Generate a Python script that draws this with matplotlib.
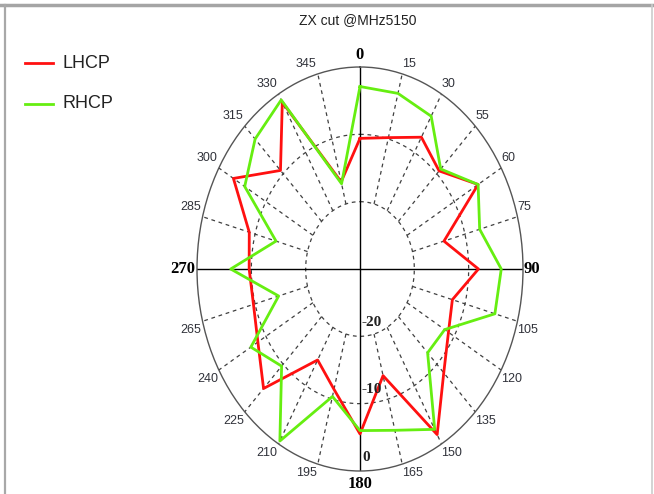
import numpy as np
import matplotlib
matplotlib.use("Agg")
import matplotlib.pyplot as plt
from matplotlib.lines import Line2D

# pattern cut, dB values every 15 degrees
angles_deg = [0, 15, 30, 45, 60, 75, 90, 105, 120, 135, 150, 165,
              180, 195, 210, 225, 240, 255, 270, 285, 300, 315, 330, 345]
lhcp = [-10.6, -9.8, -7.4, -9.4, -4.9, -14.0, -8.2, -12.4, -11.2, -8.2, -1.6, -13.6,
        -5.5, -11.5, -14.4, -4.9, -8.3, -9.7, -9.6, -8.9, -3.1, -9.3, -1.4, -16.6]
rhcp = [-2.9, -3.0, -3.8, -9.0, -4.9, -7.2, -4.0, -4.3, -12.0, -12.4, -2.5, -5.2,
        -6.0, -10.4, -0.5, -9.6, -6.8, -14.5, -6.2, -14.0, -5.5, -2.7, -1.0, -16.9]
# angle tick texts as printed on the plot
angle_labels = ["0", "15", "30", "55", "60", "75", "90", "105", "120", "135", "150", "165",
                "180", "195", "210", "225", "240", "265", "270", "285", "300", "315", "330", "345"]
ring_values = [-20, -10, 0]
r_min, r_max = -30, 0

sans = ["Liberation Sans Narrow", "Liberation Sans", "DejaVu Sans"]
serif = ["Liberation Serif", "DejaVu Serif"]

W, H = 654, 494
fig = plt.figure(figsize=(W / 100, H / 100), dpi=100)
fig.patch.set_facecolor("white")

# stretched polar axes -> elliptical chart
cx, cy, rx, ry = 360, 269, 163, 202
ax = fig.add_axes([(cx - rx) / W, (H - cy - ry) / H, 2 * rx / W, 2 * ry / H],
                  projection="polar")
ax.set_aspect("auto")
ax.set_theta_zero_location("N")
ax.set_theta_direction(-1)
ax.set_ylim(r_min, r_max)
ax.grid(False)
ax.set_xticks([])
ax.set_yticks([])
ax.spines["polar"].set_color("#555555")
ax.spines["polar"].set_linewidth(1.0)

dash = dict(color="#404040", lw=0.9, ls=(0, (3, 3)))
full = np.linspace(0, 2 * np.pi, 361)
for rv in ring_values[:-1]:
    ax.plot(full, np.full_like(full, rv), **dash)
for a in angles_deg:
    if a % 90:
        t = np.deg2rad(a)
        ax.plot([t, t], [ring_values[0], r_max], **dash)
for a in (0, 90):
    t = np.deg2rad(a)
    ax.plot([t, t + np.pi], [r_max, r_max], color="black", lw=1.0)

theta = np.deg2rad(angles_deg + [angles_deg[0]])
ax.plot(theta, lhcp + [lhcp[0]], color="#ff1010", lw=2.0)
ax.plot(theta, rhcp + [rhcp[0]], color="#66ee11", lw=2.0)

# angle labels around the rim
for a, lab in zip(angles_deg, angle_labels):
    t = np.deg2rad(a)
    if a % 90 == 0:
        off = {0: (0, 12), 90: (1, 0), 180: (0, -13), 270: (-2, 0)}[a]
        ha = {0: "center", 90: "left", 180: "center", 270: "right"}[a]
        ax.annotate(lab, xy=(t, r_max), xytext=off, textcoords="offset pixels",
                    ha=ha, va="center", fontsize=12, fontweight="bold",
                    family=serif, color="black", annotation_clip=False)
        continue
    right = a < 180
    upper = a < 90 or a > 270
    ax.annotate(lab, xy=(t, r_max), xytext=(0 if right else -1, 7 if upper else -3),
                textcoords="offset pixels", ha="left" if right else "right",
                va="baseline" if upper else "top", fontsize=9, family=sans,
                color="#30323a", annotation_clip=False)

# radial scale labels along the 180 degree line
for rv in ring_values:
    ax.annotate(str(rv), xy=(np.pi, rv), xytext=(2, 14), textcoords="offset pixels",
                ha="left", va="center", fontsize=11, fontweight="bold",
                family=serif, color="#222222", annotation_clip=False)

fig.text(358 / W, 1 - 20 / H, "ZX cut @MHz5150", ha="center", va="center",
         fontsize=10, family=sans, color="#222222")

# legend drawn at fixed place on the left
for y, col, lab in [(63, "#ff1010", "LHCP"), (104, "#66ee11", "RHCP")]:
    fig.add_artist(Line2D([25 / W, 53 / W], [1 - y / H, 1 - y / H], color=col, lw=2.0))
    fig.text(63 / W, 1 - y / H, lab, ha="left", va="center", fontsize=13,
             family=sans, color="#222222")

# window frame
fig.add_artist(Line2D([0, 1], [1 - 5 / H, 1 - 5 / H], color="#a5a5a5", lw=2.5))
fig.add_artist(Line2D([5 / W, 5 / W], [0, 1 - 5 / H], color="#a8a8a8", lw=1.6))
fig.add_artist(Line2D([652 / W, 652 / W], [0, 1 - 5 / H], color="#cccccc", lw=1.2))

fig.savefig("out.png", dpi=100, facecolor="white")
